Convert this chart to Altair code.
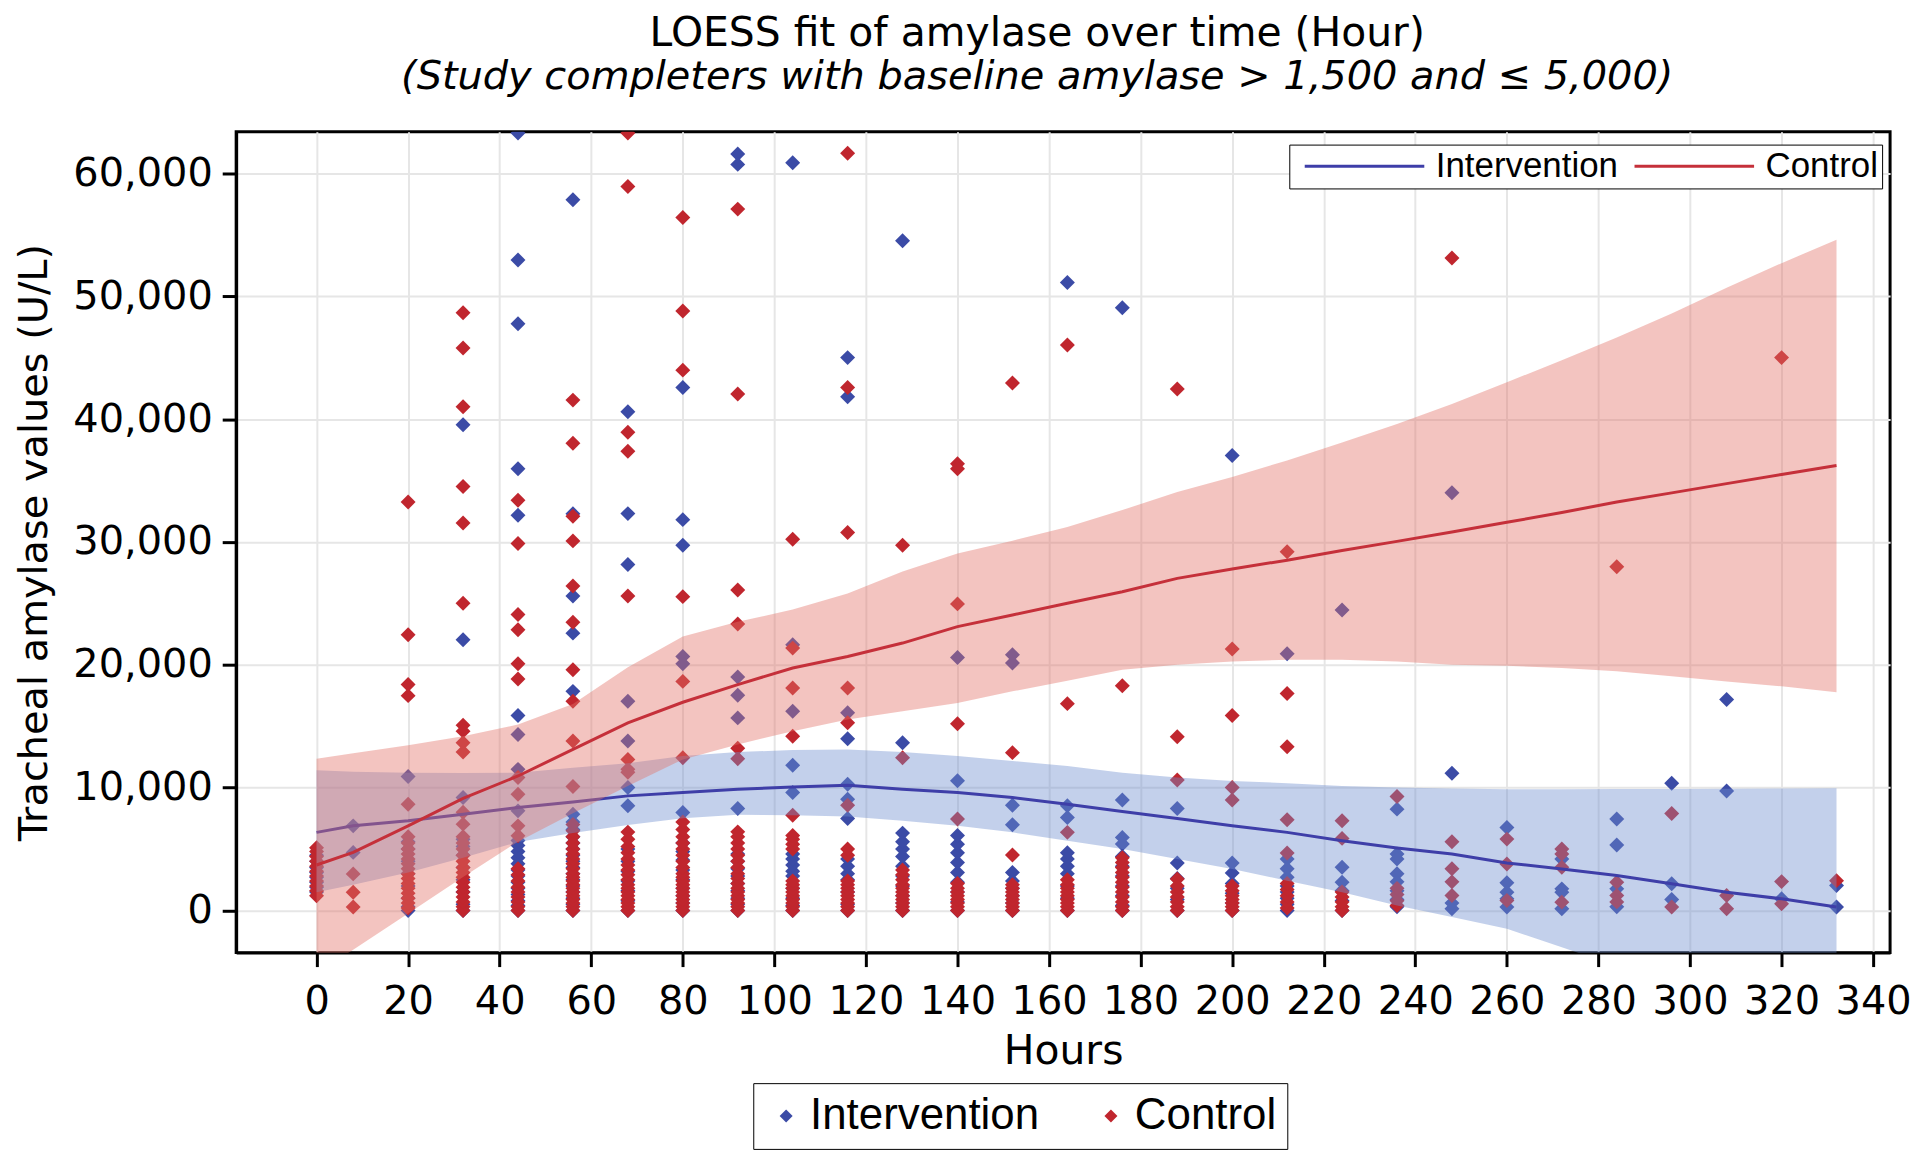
import altair as alt
import pandas as pd

HOURS = [0, 8, 20, 32, 44, 56, 68, 80, 92, 104, 116, 128, 140, 152, 164, 176,
         188, 200, 212, 224, 236, 248, 260, 272, 284, 296, 308, 320, 332]
GROUPS = ["Intervention", "Control"]

# LOESS fits and 95% confidence limits
INT_FIT = [6360, 6890, 7300, 7840, 8380, 8840, 9330, 9600, 9870, 10060, 10190, 9870, 9600, 9200,
           8650, 8060, 7490, 6890, 6360, 5680, 5090, 4600, 3870, 3380, 2840, 2170, 1490, 950, 280]
INT_LCL = [1490, 2100, 3100, 4300, 5570, 6300, 6950, 7500, 7800, 7760, 7650, 7300, 6890, 6360,
           5680, 5000, 4190, 3380, 2430, 1490, 410, -540, -1480, -3000, -4500, -6000, -7500, -9000, -10500]
INT_UCL = [11410, 11300, 11220, 11200, 11220, 11630, 11980, 12570, 12900, 13060, 13110, 12900, 12570, 12170,
           11760, 11220, 10820, 10540, 10360, 10140, 10010, 9930, 9870, 9870, 9880, 9900, 9920, 9940, 9950]
CTL_FIT = [3700, 4730, 6890, 9120, 10950, 13110, 15280, 16950, 18390, 19740, 20680, 21770, 23110, 24060,
           25010, 25950, 27040, 27800, 28520, 29300, 30050, 30820, 31600, 32400, 33250, 34000, 34750, 35500, 36230]
CTL_LCL = [-5050, -3200, -240, 2730, 5600, 7920, 10140, 12300, 13520, 14600, 15550, 16220, 16900, 17840,
           18700, 19600, 20010, 20280, 20410, 20410, 20280, 20010, 19930, 19740, 19470, 19060, 18650, 18250, 17760]
CTL_UCL = [12360, 12800, 13450, 14190, 15140, 16800, 19800, 22300, 23500, 24500, 25800, 27600, 29070, 30100,
           31230, 32600, 34070, 35300, 36640, 38100, 39600, 41240, 43000, 44800, 46640, 48600, 50700, 52700, 54610]

# Observed values per hour (one list per entry of HOURS)
INT_POINTS = [
    [1500, 1900, 2300, 2700, 3100, 3500, 4000, 4500],
    [6890, 4730],
    [10900, 0, 300, 1000, 2000, 3000, 4000, 5000, 5600],
    [39550, 22040, 9200, 0, 500, 1500, 2500, 3500, 4500, 5200, 5800],
    [63300, 52960, 47770, 35960, 32170, 15870, 14330, 11490, 8110, 0, 400, 800, 1300, 1800, 2300,
     2800, 3300, 3800, 4300, 4800, 5300, 5700],
    [57860, 32300, 25600, 22580, 17840, 7840, 0, 500, 1000, 1500, 2000, 2500, 3000, 3500, 4000,
     4500, 5000, 5500, 6000, 6600, 7200],
    [40610, 32310, 28170, 17030, 13790, 10010, 8520, 0, 800, 1600, 2400, 3200, 4000, 5000],
    [42580, 31820, 29740, 20680, 20090, 7980, 0, 600, 1200, 1800, 2500, 3300, 4100, 4800, 5500],
    [61590, 60740, 19010, 17520, 15680, 8300, 0, 500, 1000, 1600, 2200, 2800, 3400, 4000, 4600],
    [60880, 21630, 16220, 11820, 9600, 0, 400, 1000, 1800, 2800, 3200, 3700, 4200, 4600],
    [45010, 41820, 16090, 13980, 10280, 9060, 7490, 0, 500, 1500, 2500, 3000, 3600, 4200],
    [54530, 13660, 0, 600, 1200, 2000, 2800, 3600, 4400, 5000, 5600, 6300],
    [20600, 10560, 0, 700, 1500, 2300, 3100, 3900, 4700, 5400, 6100],
    [20820, 20150, 8570, 6980, 0, 600, 1200, 1800, 2400, 3100],
    [51130, 8520, 7570, 0, 1000, 2000, 3000, 3600, 4200, 4700],
    [49070, 9000, 5950, 5410, 0, 400, 1200, 2000, 2800, 3600, 4400],
    [8300, 0, 900, 1800, 2600, 3870],
    [37040, 0, 600, 1400, 2200, 3060, 3870],
    [20900, 4190, 0, 500, 1000, 1500, 2000, 2700, 3400],
    [24470, 3520, 2300, 0, 800, 1600],
    [8250, 4600, 4190, 2990, 2330, 300, 900, 1600],
    [34010, 11170, 140, 600],
    [6760, 2250, 1490, 950, 280],
    [4190, 1760, 1490, 140],
    [7440, 5330, 1760, 300],
    [10360, 2170, 890],
    [17170, 9730],
    [950],
    [2030, 280],
]
CTL_POINTS = [
    [1200, 1600, 2000, 2400, 2800, 3200, 3600, 4000, 4400, 4800, 5100],
    [2980, 1490, 280],
    [33250, 22440, 18390, 17490, 8650, 200, 600, 1000, 1400, 1800, 2200, 2600, 3000, 3400, 3800,
     4200, 4600, 5000, 5500, 6000],
    [48660, 45800, 41010, 34520, 31550, 25010, 15090, 14600, 13660, 12900, 8000, 7030, 0, 300, 700,
     1100, 1500, 1900, 2300, 2700, 3100, 3500, 4000, 4500, 5000, 5500, 6000],
    [33390, 29880, 24100, 22850, 20090, 18850, 10820, 9460, 6890, 6080, 0, 300, 700, 1100, 1500,
     1900, 2400, 2900, 3400],
    [41550, 38040, 32100, 30090, 26410, 23470, 19600, 17030, 13790, 10090, 0, 300, 600, 900, 1200,
     1500, 1800, 2100, 2400, 2700, 3000, 3400, 3800, 4200, 4600, 5000, 5500, 6000, 6500, 7000],
    [63300, 58940, 38930, 37390, 25600, 12300, 11490, 11250, 6380, 0, 300, 600, 900, 1200, 1500,
     1800, 2100, 2500, 2900, 3300, 3700, 4200, 4700, 5200, 5800],
    [56420, 48800, 43990, 25550, 18650, 12440, 0, 300, 600, 900, 1200, 1500, 1800, 2100, 2400,
     2700, 3000, 3500, 4000, 4500, 5000, 5500, 6000, 6600, 7200],
    [57100, 42040, 26090, 23330, 13200, 12360, 0, 300, 600, 900, 1200, 1500, 1800, 2200, 2600,
     3000, 3500, 4000, 4500, 5000, 5500, 6000, 6400],
    [30230, 21360, 18120, 14190, 7760, 0, 300, 600, 900, 1200, 1500, 1800, 2100, 2400, 5000,
     5400, 5800, 6100],
    [61640, 42580, 30770, 18120, 15280, 8570, 0, 300, 600, 900, 1200, 1500, 1800, 2100, 2400,
     4500, 5000],
    [29740, 12440, 0, 300, 600, 900, 1200, 1500, 1800, 2100, 2500, 2900, 3300],
    [36370, 35960, 24960, 15200, 7440, 0, 300, 600, 900, 1200, 1500, 1800, 2200],
    [42940, 12850, 4520, 0, 300, 600, 900, 1200, 1500, 1800, 2100],
    [46040, 16840, 6360, 0, 300, 600, 900, 1200, 1500, 1800, 2100, 2500],
    [18300, 0, 300, 700, 1100, 1500, 1900, 2300, 2700, 3100, 3500, 3900, 4300],
    [42450, 14140, 10630, 2570, 0, 300, 700, 1100, 1500, 2000],
    [21280, 15870, 10010, 9000, 0, 300, 600, 900, 1200, 1600, 2000],
    [29200, 17660, 13330, 7380, 4680, 200, 700, 1200, 1700, 2200],
    [7300, 5870, 0, 300, 700, 1100, 1500],
    [9280, 400, 800, 1300, 1800],
    [53120, 5600, 3390, 2330, 1220],
    [5810, 3790, 810],
    [5000, 4600, 3520, 680],
    [27980, 2300, 1220, 700],
    [7900, 280],
    [1220, 140],
    [45010, 2350, 540],
    [2430],
]

X_TICKS = list(range(0, 341, 20))
Y_TICKS = list(range(0, 60001, 10000))

POINT_COLORS = ["#3B4BA6", "#C0262E"]
LINE_COLORS = ["#3E3EA8", "#C5303A"]
BAND_COLORS = {"Intervention": "#6F8FD0", "Control": "#E37268"}

rows = []
for grp, pts in (("Intervention", INT_POINTS), ("Control", CTL_POINTS)):
    for h, vals in zip(HOURS, pts):
        for v in vals:
            rows.append({"Hour": h, "Amylase": v, "Group": grp})
pts_df = pd.DataFrame(rows)

fit_rows = []
for grp, fit, lo, hi in (("Intervention", INT_FIT, INT_LCL, INT_UCL),
                         ("Control", CTL_FIT, CTL_LCL, CTL_UCL)):
    for h, f, l, u in zip(HOURS, fit, lo, hi):
        fit_rows.append({"Hour": h, "Fit": f, "Lower": l, "Upper": u, "Curve": grp})
fit_df = pd.DataFrame(fit_rows)

TICK_FONT = "DejaVu Sans"
x_axis = alt.Axis(values=X_TICKS, title="Hours", labelFont=TICK_FONT, labelFontSize=40,
                  titleFont=TICK_FONT, titleFontSize=41, titleFontWeight="normal",
                  labelColor="black", titleColor="black", tickColor="black", tickWidth=3,
                  tickSize=14, domainColor="black", domainWidth=3, gridColor="#E6E6E6",
                  gridWidth=2, labelPadding=15, titlePadding=10, labelFlush=False,
                  labelOverlap=False)
y_axis = alt.Axis(values=Y_TICKS, format=",.0f", formatType="number",
                  title="Tracheal amylase values (U/L)",
                  labelFont=TICK_FONT, labelFontSize=40, titleFont=TICK_FONT, titleFontSize=40,
                  titleFontWeight="normal", labelColor="black", titleColor="black",
                  tickColor="black", tickWidth=3, tickSize=14, domainColor="black",
                  domainWidth=3, gridColor="#E6E6E6", gridWidth=2, labelPadding=10,
                  titlePadding=18, labelOverlap=False)
x_scale = alt.Scale(domain=[-17.56, 343.7], nice=False, zero=False)
y_scale = alt.Scale(domain=[-3431, 63406], nice=False, zero=False)


def X():
    return alt.X("Hour:Q", scale=x_scale, axis=x_axis)


points = alt.Chart(pts_df).mark_point(shape="diamond", filled=True, size=225, opacity=1,
                                      clip=True).encode(
    x=X(),
    y=alt.Y("Amylase:Q", scale=y_scale, axis=y_axis),
    fill=alt.Fill("Group:N", scale=alt.Scale(domain=GROUPS, range=POINT_COLORS),
                  legend=alt.Legend(title=None, orient="none", legendX=519, legendY=955,
                                    direction="horizontal", symbolType="diamond",
                                    symbolSize=170, symbolStrokeWidth=0,
                                    labelFont="Liberation Sans", labelFontSize=44,
                                    labelColor="black", labelLimit=400,
                                    strokeColor="black", fillColor="white",
                                    padding=11, columnPadding=50, labelOffset=2)),
)


def band(grp):
    return alt.Chart(fit_df).transform_filter(alt.datum.Curve == grp).mark_area(
        clip=True, color=BAND_COLORS[grp], opacity=0.42).encode(
        x=X(),
        y=alt.Y("Lower:Q", scale=y_scale, axis=y_axis),
        y2="Upper:Q",
    )


def line(grp):
    return alt.Chart(fit_df).transform_filter(alt.datum.Curve == grp).mark_line(
        clip=True, strokeWidth=3).encode(
        x=X(),
        y=alt.Y("Fit:Q", scale=y_scale, axis=y_axis),
        stroke=alt.Stroke("Curve:N", sort=GROUPS, scale=alt.Scale(range=LINE_COLORS),
                          legend=alt.Legend(title=None, orient="none", legendX=1057, legendY=13,
                                            direction="horizontal",
                                            symbolType="M-0.4,0H7.6",
                                            symbolSize=900, symbolStrokeWidth=3,
                                            labelFont="Liberation Sans", labelFontSize=35,
                                            labelColor="black", labelLimit=400,
                                            strokeColor="black",
                                            fillColor="white", padding=4, columnPadding=5,
                                            labelOffset=108)),
    )


chart = alt.layer(
    points, band("Intervention"), line("Intervention"), band("Control"), line("Control")
).properties(
    width=1660,
    height=824,
    autosize=alt.AutoSizeParams(type="none"),
    padding={"left": 229, "top": 122, "right": 22, "bottom": 197},
    title=alt.TitleParams(
        text="LOESS fit of amylase over time (Hour)",
        subtitle="(Study completers with baseline amylase > 1,500 and ≤ 5,000)",
        font="DejaVu Sans", fontSize=41, fontWeight="normal", color="black",
        subtitleFont="DejaVu Sans", subtitleFontSize=40, subtitleFontStyle="italic",
        subtitleColor="black", anchor="middle", dx=-26, offset=34, subtitlePadding=2,
    ),
).configure_view(stroke="black", strokeWidth=3)

chart.save("out.html", embed_options={"renderer": "svg", "actions": False})
